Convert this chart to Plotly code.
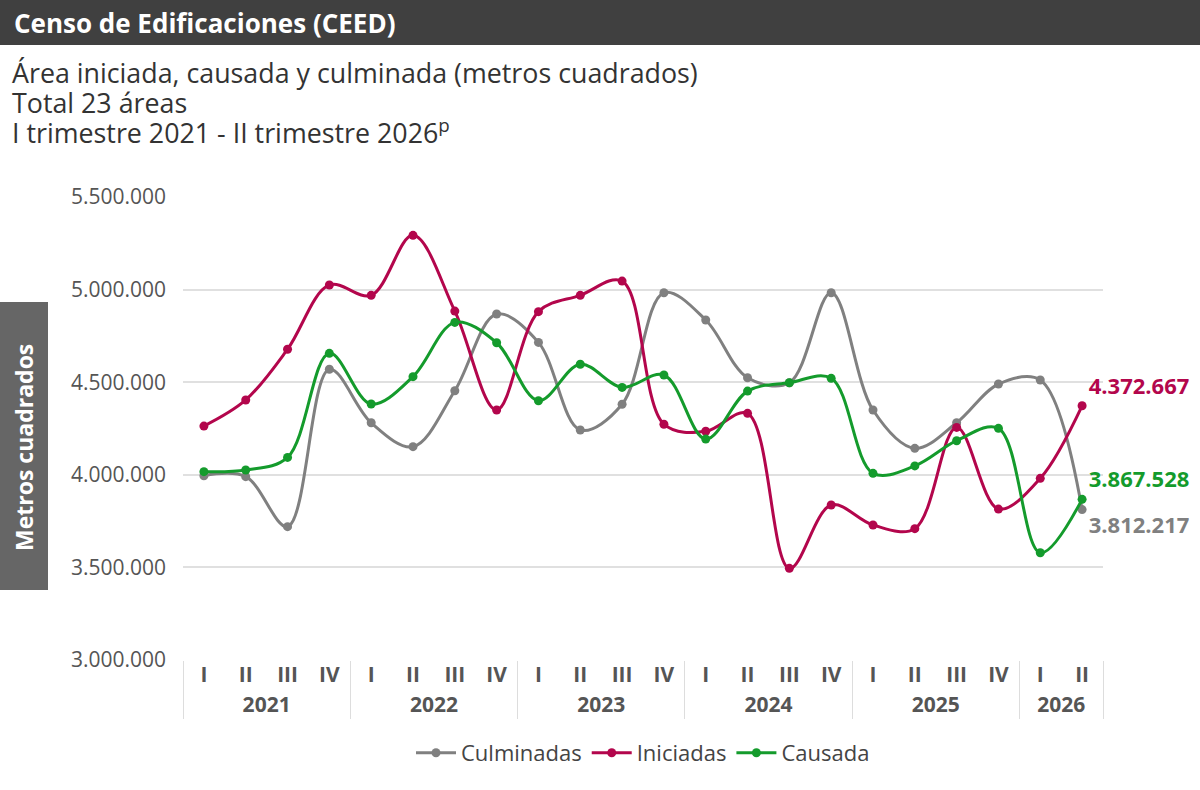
import plotly.graph_objects as go

years = ["2021"] * 4 + ["2022"] * 4 + ["2023"] * 4 + ["2024"] * 4 + ["2025"] * 4 + ["2026"] * 2
quarters = ["I", "II", "III", "IV"] * 5 + ["I", "II"]

culminadas = [3995000, 3990000, 3720000, 4570000, 4281000, 4152000, 4454000, 4868000,
              4715000, 4242000, 4381000, 4983000, 4836000, 4524000, 4497000, 4983000,
              4350000, 4143000, 4281000, 4490000, 4512000, 3812217]
iniciadas = [4263000, 4404000, 4678000, 5025000, 4969000, 5293000, 4884000, 4350000,
             4881000, 4969000, 5046000, 4273000, 4235000, 4332000, 3495000, 3837000,
             3729000, 3709000, 4256000, 3815000, 3981000, 4372667]
causada = [4017000, 4026000, 4094000, 4656000, 4382000, 4530000, 4823000, 4713000,
           4400000, 4597000, 4472000, 4539000, 4193000, 4452000, 4497000, 4521000,
           4008000, 4048000, 4184000, 4251000, 3579000, 3867528]

series = [
    ("Culminadas", culminadas, "#808080", "bottom right"),
    ("Iniciadas", iniciadas, "#B3064C", "top right"),
    ("Causada", causada, "#149B2C", "top right"),
]

def fmt(v):
    return f"{v:,}".replace(",", ".")

fig = go.Figure()
for name, vals, color, pos in series:
    labels = [""] * (len(vals) - 1) + [fmt(vals[-1])]
    fig.add_trace(go.Scatter(
        x=[years, quarters], y=vals, name=name,
        mode="lines+markers+text",
        line=dict(color=color, width=3, shape="spline", smoothing=1),
        marker=dict(color=color, size=9),
        text=labels, textposition=pos,
        textfont=dict(family="Open Sans", size=22, color=color, weight="bold"),
        cliponaxis=False, hoverinfo="skip",
    ))

# pixel -> paper helpers (plot area 183..1103 x 197..660)
def px(x):
    return (x - 183) / 920

def py(y):
    return (660 - y) / 463

fig.add_shape(type="rect", xref="paper", yref="paper",
              x0=px(0), x1=px(1200), y0=py(45), y1=py(0),
              fillcolor="#404040", line_width=0, layer="below")
fig.add_shape(type="rect", xref="paper", yref="paper",
              x0=px(0), x1=px(48), y0=py(590), y1=py(302),
              fillcolor="#666666", line_width=0, layer="below")

fig.add_annotation(xref="paper", yref="paper", x=px(12), y=py(23),
                   xanchor="left", yanchor="middle", showarrow=False,
                   text="<b>Censo de Edificaciones (CEED)</b>",
                   font=dict(family="Open Sans", size=26, color="white"))
subtitles = ["Área iniciada, causada y culminada (metros cuadrados)",
             "Total 23 áreas",
             "I trimestre 2021 - II trimestre 2026<sup>p</sup>"]
for i, s in enumerate(subtitles):
    fig.add_annotation(xref="paper", yref="paper", x=px(10), y=py(72 + 30 * i),
                       xanchor="left", yanchor="middle", showarrow=False,
                       text=s, font=dict(family="Open Sans", size=26.8, color="#333333"))
fig.add_annotation(xref="paper", yref="paper", x=px(24), y=py(448),
                   xanchor="center", yanchor="middle", showarrow=False, textangle=-90,
                   text="<b>Metros cuadrados</b>",
                   font=dict(family="Open Sans", size=23, color="white"))

fig.update_layout(
    width=1200, height=790,
    margin=dict(l=183, r=97, t=197, b=130),
    paper_bgcolor="white", plot_bgcolor="white",
    separators=",.",
    font=dict(family="Open Sans", color="#555555"),
    showlegend=True,
    legend=dict(orientation="h", x=0.5, xanchor="center", y=py(753), yanchor="middle",
                font=dict(family="Open Sans", size=22, color="#444444"),
                itemwidth=40, tracegroupgap=0),
    xaxis=dict(
        type="multicategory", range=[-0.5, 21.5], autorange=False,
        showgrid=False, showline=False, ticks="",
        showdividers=True, dividercolor="#dddddd", dividerwidth=1,
        tickfont=dict(family="Open Sans", size=21, color="#555555", weight="bold"),
    ),
    yaxis=dict(
        range=[3000000, 5500000], dtick=500000, tickformat=",d",
        showgrid=True, gridcolor="#e0e0e0", gridwidth=1.5,
        zeroline=False, showline=False, ticks="", ticklabelstandoff=16,
        tickfont=dict(family="Open Sans", size=21, color="#555555"),
    ),
)

fig.write_html("out.html", config={"displayModeBar": False},
               post_script="document.body.style.margin='0';")
